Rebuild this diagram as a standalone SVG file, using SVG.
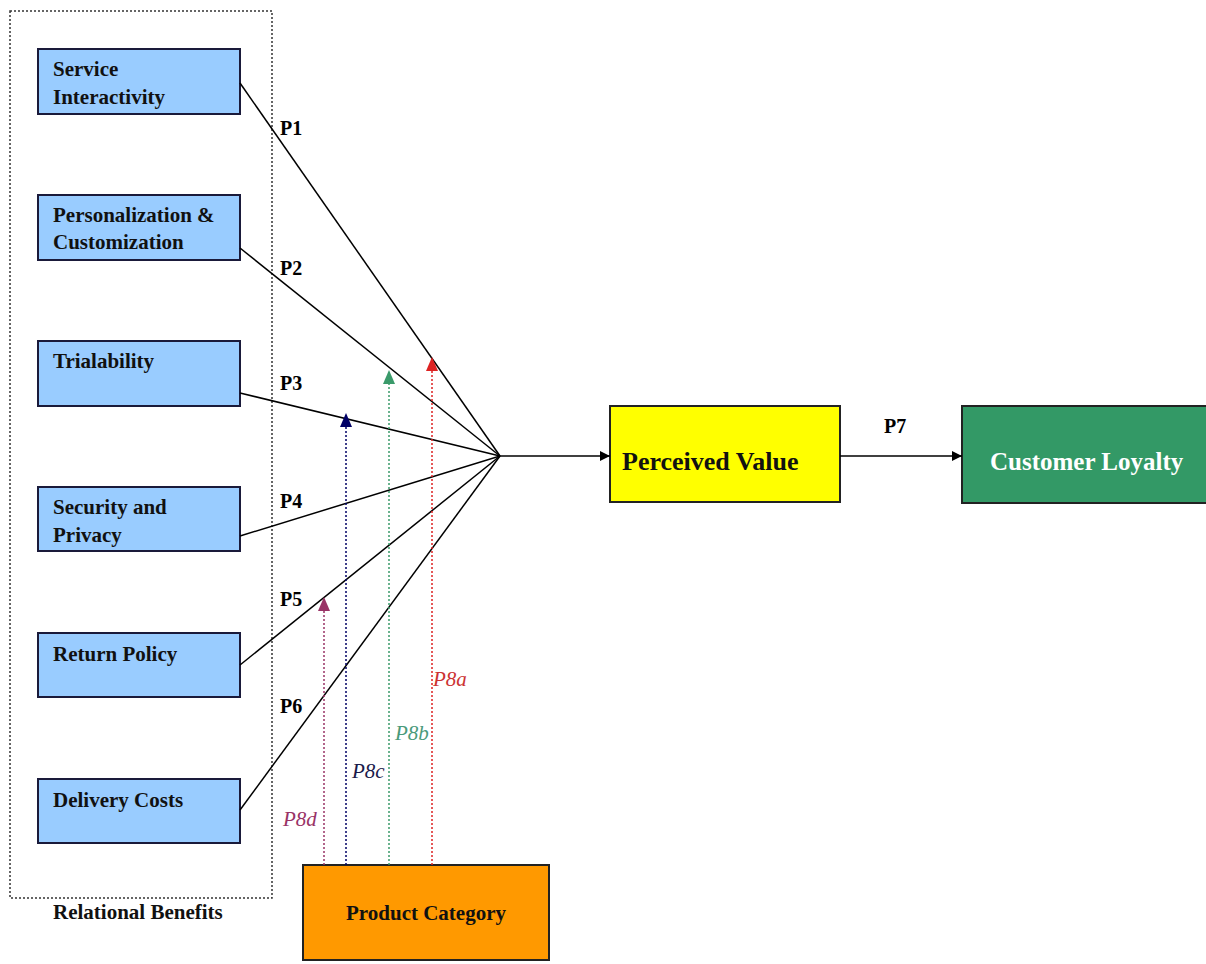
<svg xmlns="http://www.w3.org/2000/svg" width="1206" height="964" viewBox="0 0 1206 964">
<style>
.box{fill:#99CCFF;stroke:#1a1a3a;stroke-width:2}
.t{font-family:"Liberation Serif","Times New Roman",serif;font-weight:bold;font-size:21px;fill:#111}
.pl{font-family:"Liberation Serif","Times New Roman",serif;font-weight:bold;font-size:20px;fill:#000}
.it{font-family:"Liberation Serif","Times New Roman",serif;font-style:italic;font-size:21px}
.ln{stroke:#000;stroke-width:1.5;fill:none}
.dot{stroke-width:1.5;stroke-dasharray:2,2;fill:none}
</style>
<defs>
<marker id="ah" viewBox="0 0 10 10" refX="10" refY="5" markerWidth="11" markerHeight="10" markerUnits="userSpaceOnUse" orient="auto"><path d="M0,0 L10,5 L0,10 z" fill="#000"/></marker>
</defs>
<rect width="1206" height="964" fill="#fff"/>
<g id="relational-benefits">
<rect x="10" y="11" width="262" height="887" fill="none" stroke="#333" stroke-width="1.5" stroke-dasharray="2,2"/>
<text class="t" x="53" y="919">Relational Benefits</text>
</g>
<g id="service"><rect class="box" x="38" y="49" width="202" height="65"/><text class="t" x="53" y="76">Service</text><text class="t" x="53" y="104">Interactivity</text></g>
<g id="personalization"><rect class="box" x="38" y="195" width="202" height="65"/><text class="t" x="53" y="222">Personalization &amp;</text><text class="t" x="53" y="249">Customization</text></g>
<g id="trialability"><rect class="box" x="38" y="341" width="202" height="65"/><text class="t" x="53" y="368">Trialability</text></g>
<g id="security"><rect class="box" x="38" y="487" width="202" height="64"/><text class="t" x="53" y="514">Security and</text><text class="t" x="53" y="542">Privacy</text></g>
<g id="return"><rect class="box" x="38" y="633" width="202" height="64"/><text class="t" x="53" y="661">Return Policy</text></g>
<g id="delivery"><rect class="box" x="38" y="779" width="202" height="64"/><text class="t" x="53" y="807">Delivery Costs</text></g>
<g id="perceived"><rect x="610" y="406" width="230" height="96" fill="#FFFF00" stroke="#222" stroke-width="2"/><text class="t" x="622" y="470" style="font-size:26px">Perceived Value</text></g>
<g id="loyalty"><rect x="962" y="406" width="246" height="97" fill="#339966" stroke="#222" stroke-width="2"/><text class="t" x="990" y="470" style="font-size:25px;fill:#fff">Customer Loyalty</text></g>
<g id="product"><rect x="303" y="865" width="246" height="95" fill="#FF9900" stroke="#222" stroke-width="2"/><text class="t" x="426" y="920" text-anchor="middle">Product Category</text></g>
<g id="connectors">
<line class="ln" x1="240" y1="83" x2="500" y2="456"/>
<line class="ln" x1="240" y1="248" x2="500" y2="456"/>
<line class="ln" x1="240" y1="393" x2="500" y2="456"/>
<line class="ln" x1="240" y1="536" x2="500" y2="456"/>
<line class="ln" x1="240" y1="665" x2="500" y2="456"/>
<line class="ln" x1="240" y1="810" x2="500" y2="456"/>
<line class="ln" x1="500" y1="456" x2="610" y2="456" marker-end="url(#ah)"/>
<line class="ln" x1="840" y1="456" x2="962" y2="456" marker-end="url(#ah)"/>
<line class="dot" stroke="#993366" x1="324" y1="865" x2="324" y2="606"/>
<path d="M324,597 L318,611 L330,611 z" fill="#993366"/>
<line class="dot" stroke="#000066" x1="346" y1="865" x2="346" y2="422"/>
<path d="M346,413 L340,427 L352,427 z" fill="#000066"/>
<line class="dot" stroke="#3A9A6A" x1="389" y1="865" x2="389" y2="379"/>
<path d="M389,370 L383,384 L395,384 z" fill="#3A9A6A"/>
<line class="dot" stroke="#DD2222" x1="432" y1="865" x2="432" y2="366"/>
<path d="M432,357 L426,371 L438,371 z" fill="#DD2222"/>
<text class="pl" x="280" y="135">P1</text>
<text class="pl" x="280" y="275">P2</text>
<text class="pl" x="280" y="390">P3</text>
<text class="pl" x="280" y="508">P4</text>
<text class="pl" x="280" y="606">P5</text>
<text class="pl" x="280" y="713">P6</text>
<text class="pl" x="884" y="433">P7</text>
<text class="it" x="433" y="686" fill="#CC3333">P8a</text>
<text class="it" x="395" y="740" fill="#4A9A7A">P8b</text>
<text class="it" x="352" y="778" fill="#1a1a4a">P8c</text>
<text class="it" x="283" y="826" fill="#993366">P8d</text>
</g>
</svg>
